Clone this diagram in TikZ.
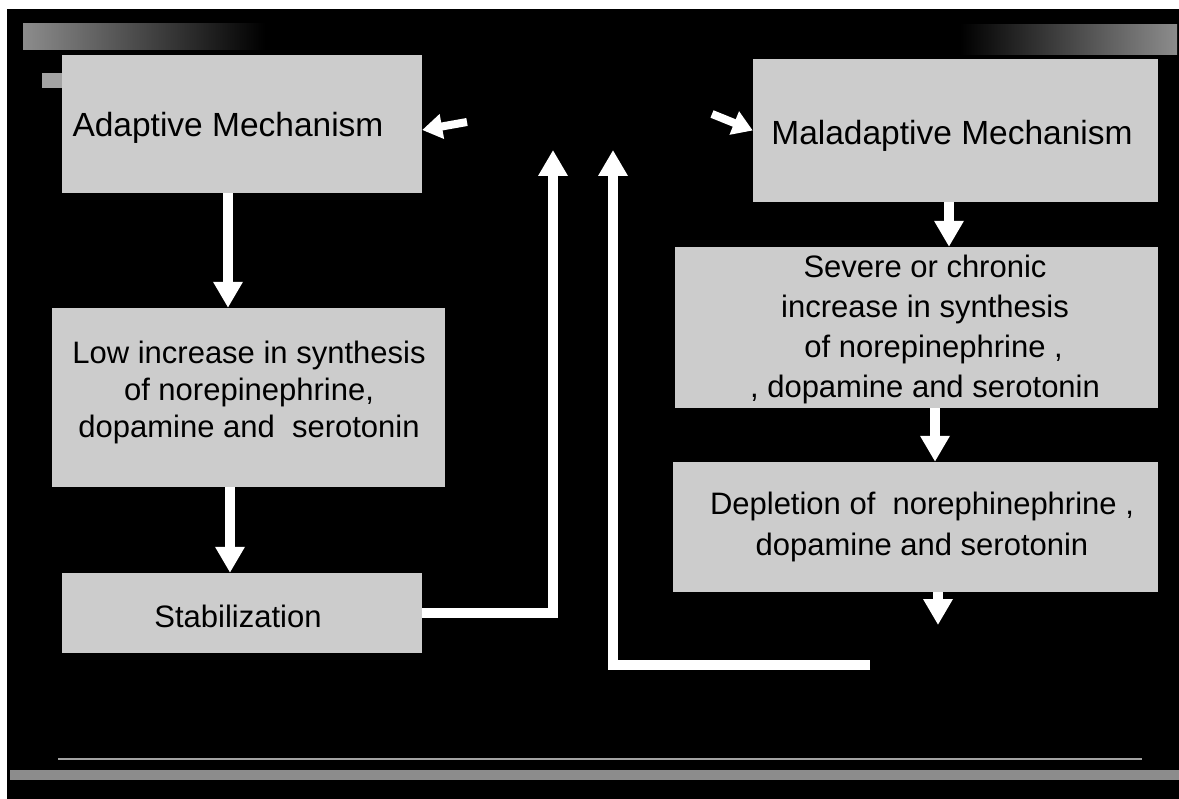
\documentclass[tikz,border=0pt]{standalone}
\usepackage{fontspec}
\setmainfont{Liberation Sans}
\usetikzlibrary{arrows.meta}
\definecolor{boxgray}{gray}{0.80}
\definecolor{stripgray}{gray}{0.55}
\begin{document}
\begin{tikzpicture}[x=1pt,y=-1pt,
  box/.style={fill=boxgray, draw=none, inner sep=0pt},
  txt/.style={font=\fontsize{31}{37}\selectfont, align=center, inner sep=0pt, text=black},
  title/.style={txt, font=\fontsize{33.5}{40}\selectfont},
  flow/.style={draw=white, line width=10pt, line join=miter, -{Triangle[width=28pt,length=26pt]}},
  smallflow/.style={draw=white, line width=8pt, -{Triangle[width=24pt,length=20pt]}}]
\useasboundingbox (0,0) rectangle (1179,799);
\fill[white] (0,0) rectangle (1179,799);
\fill[black] (7,9) rectangle (1179,799);
% decorative strips
\shade[left color=stripgray, right color=black] (23,24) rectangle (265,50);
\shade[left color=black, right color=stripgray] (960,25) rectangle (1177,55);
\fill[stripgray!80!white] (42,73) rectangle (62,88);
\draw[stripgray!80!white, line width=2pt] (58,759) -- (1142,759);
\fill[stripgray] (10,770) rectangle (1179,780);
% boxes
\node[box, minimum width=360pt, minimum height=138pt] (adapt) at (242,124) {};
\node[box, minimum width=393pt, minimum height=179pt] (low) at (248.5,397.5) {};
\node[box, minimum width=360pt, minimum height=80pt] (stab) at (242,613) {};
\node[box, minimum width=405pt, minimum height=143pt] (mal) at (955.5,130.5) {};
\node[box, minimum width=483pt, minimum height=161pt] (sev) at (916.5,327.5) {};
\node[box, minimum width=485pt, minimum height=130pt] (dep) at (915.5,527) {};
% texts
\node[title] (adaptT) at (228,128) {Adaptive Mechanism};
\node[txt] (lowT) at (249,392) {Low increase in synthesis\\of norepinephrine,\\dopamine and\ \ serotonin};
\node[txt] (stabT) at (238,616) {Stabilization};
\node[title] (malT) at (952,136) {Maladaptive Mechanism};
\node[txt, font=\fontsize{31}{40}\selectfont] (sevT) at (925,329) {Severe or chronic\\increase in synthesis\\\ \ of norepinephrine ,\\, dopamine and serotonin};
\node[txt, font=\fontsize{31}{41}\selectfont] (depT) at (922,527) {Depletion of\ \ norephinephrine ,\\dopamine and serotonin};
% coordinates
\coordinate (upA) at (553,150);
\coordinate (upB) at (613,150);
\coordinate (tailB) at (870,665);
\coordinate (depEnd) at (938,625);
\coordinate (sa) at (467,122);
\coordinate (sb) at (712,114);
% vertical arrows
\draw[flow] ([xshift=-14pt]adapt.south) -- ([xshift=-20.5pt]low.north);
\draw[flow] ([xshift=-18.5pt]low.south) -- ([xshift=-12pt]stab.north);
\draw[flow] ([xshift=-6.5pt]mal.south) -- ([xshift=32.5pt]sev.north);
\draw[flow] ([xshift=18.5pt]sev.south) -- ([xshift=19.5pt]dep.north);
\draw[flow] ([xshift=22.5pt]dep.south) -- (depEnd);
% return arrows
\draw[flow] (stab.east) -| (upA);
\draw[flow] (tailB) -| (upB);
% small diagonal arrows
\draw[smallflow] (sa) -- ([yshift=-6pt]adapt.east);
\draw[smallflow] (sb) -- (mal.west);
\end{tikzpicture}
\end{document}
